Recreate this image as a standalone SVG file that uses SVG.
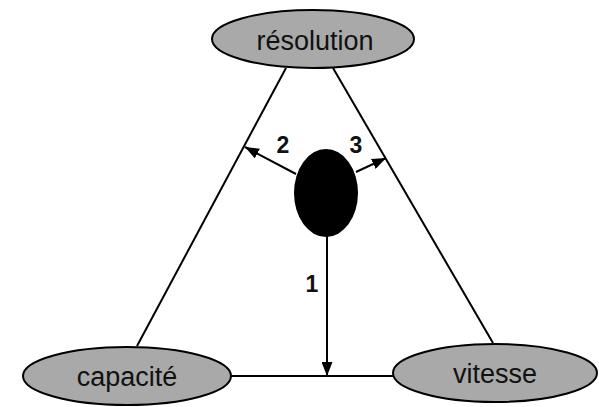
<svg xmlns="http://www.w3.org/2000/svg" width="599" height="407" viewBox="0 0 599 407">
<defs>
<marker id="ah" viewBox="0 0 14 11" refX="14" refY="5.5" markerWidth="14" markerHeight="11" markerUnits="userSpaceOnUse" orient="auto">
<path d="M0,0 L14,5.5 L0,11 Z" fill="#000"/>
</marker>
</defs>
<style>
.node ellipse{fill:#a9a9a9;stroke:#000;stroke-width:2}
.lbl{font-family:"Liberation Sans",Arial,sans-serif;font-size:27px;fill:#111;text-anchor:middle}
.num{font-family:"Liberation Sans",Arial,sans-serif;font-size:23px;font-weight:bold;fill:#111;text-anchor:middle}
.edge{stroke:#000;stroke-width:2;fill:none}
</style>
<rect width="599" height="407" fill="#fff"/>
<g id="connectors">
<line class="edge" x1="286" y1="68" x2="137" y2="346"/>
<line class="edge" x1="333" y1="68" x2="493" y2="343"/>
<line class="edge" x1="230" y1="376" x2="394" y2="376"/>
<line class="edge" x1="327" y1="236" x2="327" y2="376" marker-end="url(#ah)"/>
<line class="edge" x1="296" y1="174" x2="245" y2="147" marker-end="url(#ah)"/>
<line class="edge" x1="356" y1="172" x2="386" y2="158" marker-end="url(#ah)"/>
<text class="num" x="312" y="292">1</text>
<text class="num" x="283" y="153">2</text>
<text class="num" x="356" y="153">3</text>
</g>
<g id="center">
<ellipse cx="326" cy="193" rx="32" ry="44" fill="#000"/>
</g>
<g id="resolution" class="node">
<ellipse cx="313" cy="39" rx="101" ry="29"/>
<text class="lbl" x="315" y="50">résolution</text>
</g>
<g id="capacite" class="node">
<ellipse cx="127" cy="376" rx="104" ry="29"/>
<text class="lbl" x="127" y="386">capacité</text>
</g>
<g id="vitesse" class="node">
<ellipse cx="495" cy="373" rx="102" ry="29"/>
<text class="lbl" x="495" y="383">vitesse</text>
</g>
</svg>
